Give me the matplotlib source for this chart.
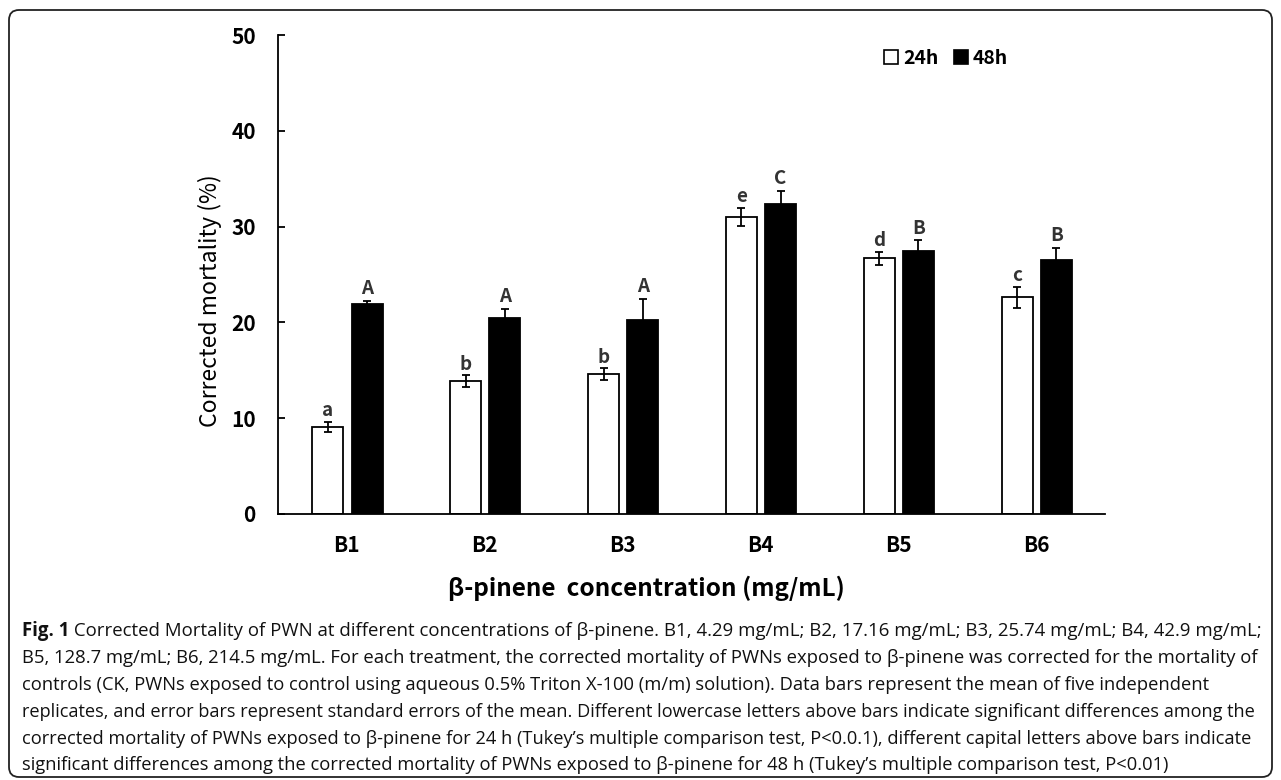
import numpy as np
import matplotlib
matplotlib.use("Agg")
import matplotlib.pyplot as plt
from matplotlib.patches import FancyBboxPatch, Patch
from matplotlib import font_manager

# data
cats = ["B1", "B2", "B3", "B4", "B5", "B6"]
mean_24h = [9.1, 13.9, 14.6, 31.0, 26.7, 22.6]
se_24h = [0.5, 0.6, 0.6, 0.95, 0.7, 1.1]
mean_48h = [21.9, 20.5, 20.3, 32.4, 27.5, 26.5]
se_48h = [0.35, 0.9, 2.1, 1.35, 1.05, 1.3]
letters_24h = ["a", "b", "b", "e", "d", "c"]
letters_48h = ["A", "A", "A", "C", "B", "B"]
series_names = ["24h", "48h"]
yticks = [0, 10, 20, 30, 40, 50]

caption_lines = [
    [("Fig. 1", "bold"), (" Corrected Mortality of PWN at different concentrations of \u03b2-pinene. B1, 4.29 mg/mL; B2, 17.16 mg/mL; B3, 25.74 mg/mL; B4, 42.9 mg/mL;", "normal")],
    [("B5, 128.7 mg/mL; B6, 214.5 mg/mL. For each treatment, the corrected mortality of PWNs exposed to \u03b2-pinene was corrected for the mortality of", "normal")],
    [("controls (CK, PWNs exposed to control using aqueous 0.5% Triton X-100 (m/m) solution). Data bars represent the mean of five independent", "normal")],
    [("replicates, and error bars represent standard errors of the mean. Different lowercase letters above bars indicate significant differences among the", "normal")],
    [("corrected mortality of PWNs exposed to \u03b2-pinene for 24 h (Tukey\u2019s multiple comparison test, P<0.0.1), different capital letters above bars indicate", "normal")],
    [("significant differences among the corrected mortality of PWNs exposed to \u03b2-pinene for 48 h (Tukey\u2019s multiple comparison test, P<0.01)", "normal")],
]
caption_full = [True, True, False, True, True, False]

W, H = 1281, 780
chart_font = ["Noto Sans CJK KR", "DejaVu Sans"]
available = {f.name for f in font_manager.fontManager.ttflist}
if "Liberation Sans Narrow" in available:
    cap_font = ["Liberation Sans Narrow", "DejaVu Sans"]
else:
    cap_font = ["Open Sans", "DejaVu Sans"]


def fx(px):
    return px / W


def fy(py):
    return 1 - py / H


fig = plt.figure(figsize=(W / 100, H / 100), dpi=100)
fig.patch.set_facecolor("white")

ax = fig.add_axes([fx(278), fy(514), (1105 - 278) / W, (514 - 35) / H])

x = np.arange(len(cats))
bw = 0.225
off24, off48 = -0.138, 0.146
ekw = dict(elinewidth=1.3, capthick=1.3, ecolor="black")
ax.bar(x + off24, mean_24h, bw, color="white", edgecolor="black", linewidth=1.3,
       yerr=se_24h, capsize=3, error_kw=ekw, zorder=2)
ax.bar(x + off48, mean_48h, bw, color="black", edgecolor="black", linewidth=1.3,
       yerr=se_48h, capsize=3, error_kw=ekw, zorder=2)

for i in range(len(cats)):
    ax.annotate(letters_24h[i], (x[i] + off24, mean_24h[i] + se_24h[i]),
                xytext=(0, 4), textcoords="offset points", ha="center", va="baseline",
                fontsize=13.5, fontweight="bold", color="#333333", family=chart_font)
    ax.annotate(letters_48h[i], (x[i] + off48, mean_48h[i] + se_48h[i]),
                xytext=(0, 5), textcoords="offset points", ha="center", va="baseline",
                fontsize=13.5, fontweight="bold", color="#333333", family=chart_font)

ax.set_xlim(-0.5, 5.5)
ax.set_ylim(0, 50)
ax.set_yticks(yticks)
ax.set_xticks(x)
ax.set_xticklabels(cats)
for s in ["top", "right"]:
    ax.spines[s].set_visible(False)
for s in ["left", "bottom"]:
    ax.spines[s].set_linewidth(1.3)
ax.tick_params(axis="y", direction="in", length=5, width=1.3, pad=16)
ax.tick_params(axis="x", length=0, pad=15)
for lab in ax.get_xticklabels() + ax.get_yticklabels():
    lab.set_fontfamily(chart_font)
    lab.set_fontweight("bold")
    lab.set_fontsize(15)

fig.text(fx(210), fy(301), "Corrected mortality (%)", rotation=90, ha="center", va="center",
         fontsize=16.5, family=chart_font)
fig.text(fx(646), fy(588), "\u03b2-pinene  concentration (mg/mL)", ha="center", va="center",
         fontsize=17.5, fontweight="bold", family=chart_font)

handles = [Patch(facecolor="white", edgecolor="black", linewidth=1.2),
           Patch(facecolor="black", edgecolor="black", linewidth=1.2)]
fig.legend(handles, series_names, loc="center left", bbox_to_anchor=(fx(884), fy(58)),
           ncol=2, frameon=False, handlelength=0.72, handleheight=0.72, handletextpad=0.25,
           columnspacing=0.8, borderpad=0, borderaxespad=0,
           prop=dict(family=chart_font, weight="bold", size=14))

# rounded frame around figure + caption
frame = FancyBboxPatch((0.09, 0.03), 12.63, 7.67, boxstyle="round,pad=0,rounding_size=0.1",
                       transform=fig.dpi_scale_trans, fill=False, lw=1.3, edgecolor="#222222")
fig.add_artist(frame)

# caption, each line fitted to its width
renderer = fig.canvas.get_renderer()
cap_y = [631, 658, 685, 712, 739, 765]
left, right = 22, 1258


def place(parts, y, size):
    xpos = left
    arts = []
    for s, wt in parts:
        t = fig.text(fx(xpos), fy(y), s, fontsize=size, fontweight=wt, family=cap_font,
                     ha="left", va="center", color="#111111")
        xpos += t.get_window_extent(renderer).width
        arts.append(t)
    return arts, xpos - left


base = 11.0
sizes = []
for parts, y, full in zip(caption_lines, cap_y, caption_full):
    if not full:
        sizes.append(None)
        continue
    arts, w = place(parts, y, base)
    for a in arts:
        a.remove()
    sizes.append(base * (right - left) / w)
mean_size = np.mean([s for s in sizes if s is not None])
for parts, y, s in zip(caption_lines, cap_y, sizes):
    place(parts, y, s if s is not None else mean_size)

fig.savefig("out.png", dpi=100, facecolor="white")
